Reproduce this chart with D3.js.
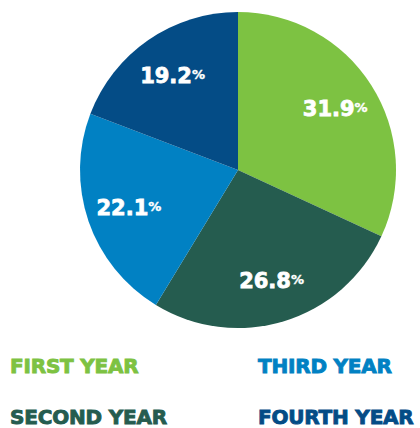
<!DOCTYPE html>
<html>
<head>
<meta charset="utf-8">
<script src="https://d3js.org/d3.v7.min.js"></script>
<style>
  body { margin: 0; background: #fff; }
  text { font-family: "DejaVu Sans", sans-serif; font-weight: bold; }
</style>
</head>
<body>
<div id="chart"></div>
<script>
// data
const years = ["FIRST YEAR", "SECOND YEAR", "THIRD YEAR", "FOURTH YEAR"];
const shares = [31.9, 26.8, 22.1, 19.2];
const colours = ["#7dc242", "#255c4f", "#0181c3", "#044c86"];

const width = 420, height = 428;
const cx = 238, cy = 170, radius = 158;

const svg = d3.select("#chart").append("svg")
    .attr("width", width)
    .attr("height", height);

const color = d3.scaleOrdinal().domain(years).range(colours);

const pie = d3.pie().sort(null).value(d => d.v);
const arcs = pie(years.map((y, i) => ({name: y, v: shares[i]})));

const arc = d3.arc().innerRadius(0).outerRadius(radius);
const labelArc = d3.arc().innerRadius(radius * 0.73).outerRadius(radius * 0.73);

const g = svg.append("g").attr("transform", `translate(${cx},${cy})`);

g.selectAll("path")
    .data(arcs)
    .enter()
    .append("path")
    .attr("d", arc)
    .attr("fill", d => color(d.data.name));

// labels: number big, % smaller
const lbl = g.selectAll(".lbl")
    .data(arcs)
    .enter()
    .append("text")
    .attr("class", "lbl")
    .attr("transform", d => {
        const c = labelArc.centroid(d);
        return `translate(${c[0]},${c[1] + 8})`;
    })
    .attr("text-anchor", "middle")
    .attr("fill", "#fff")
    .attr("stroke", "#fff")
    .attr("stroke-width", 0.8);

lbl.append("tspan")
    .style("font-size", "21px")
    .text(d => d.data.v.toFixed(1));
lbl.append("tspan")
    .style("font-size", "13px")
    .attr("stroke-width", 0.4)
    .attr("dy", -4)
    .text("%");

// legend, two columns
const lx = d3.scalePoint().domain([0, 1]).range([10, 258]);
const ly = d3.scalePoint().domain([0, 1]).range([373, 424]);

svg.selectAll(".legend")
    .data(years)
    .enter()
    .append("text")
    .attr("class", "legend")
    .attr("x", (d, i) => lx(Math.floor(i / 2)))
    .attr("y", (d, i) => ly(i % 2))
    .attr("fill", d => color(d))
    .attr("stroke", d => color(d))
    .attr("stroke-width", 0.9)
    .style("font-size", "20px")
    .style("letter-spacing", "-0.2px")
    .text(d => d);
</script>
</body>
</html>
